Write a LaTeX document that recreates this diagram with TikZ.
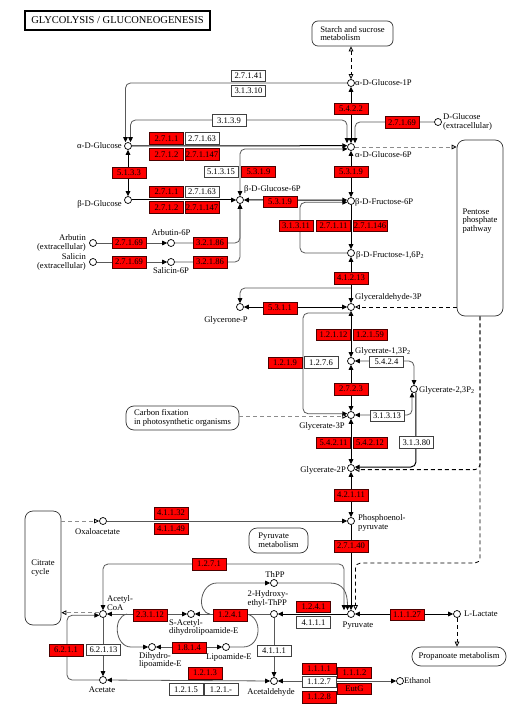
\documentclass[tikz,border=0pt]{standalone}
\usepackage{fontspec}
\setmainfont{Liberation Serif}
\usetikzlibrary{arrows.meta}
\begin{document}
\begin{tikzpicture}[x=1pt,y=-1pt,
  cpd/.style={circle, draw=black, fill=white, line width=0.7pt, minimum size=7pt, inner sep=0pt},
  ecbase/.style={sharp corners, minimum width=34pt, minimum height=11.5pt, inner sep=0pt, font=\fontsize{8.6}{9}\selectfont},
  ecr/.style={ecbase, fill=red, draw=black!70!red, line width=0.5pt},
  ecw/.style={ecbase, fill=white, draw=black!75, line width=0.6pt},
  txt/.style={inner sep=0pt, font=\fontsize{8.6}{8.6}\selectfont, align=left},
  mapb/.style={draw=black!80, line width=0.7pt, rounded corners=6pt, fill=white, inner sep=0pt, font=\fontsize{8.6}{8.6}\selectfont, align=left},
  mn/.style={line width=1pt, draw=black},
  ax/.style={line width=0.8pt, draw=black!65},
  dsh/.style={line width=0.8pt, dash pattern=on 4pt off 3pt, draw=black},
  gdsh/.style={line width=0.8pt, dash pattern=on 4pt off 3pt, draw=black!45},
  Tri/.tip={Triangle[length=5pt,width=4.6pt,color=black]},
  oTri/.tip={Triangle[open,length=5pt,width=4.6pt,color=black,fill=white]},
  rounded corners=5pt]
\useasboundingbox (0,0) rectangle (515,708);
\fill[white] (0,0) rectangle (515,708);

% title
\node[draw=black, line width=1.6pt, fill=white, minimum width=185pt, minimum height=19pt, inner sep=0pt, sharp corners, font=\fontsize{10.5}{12}\selectfont] (title) at (117.5,20.5) {GLYCOLYSIS / GLUCONEOGENESIS};

% maps
\node[mapb, minimum width=81pt, minimum height=25pt] (starch) at (352.5,33.5) {Starch and sucrose\\metabolism};
\node[mapb, rounded corners=8pt, minimum width=46pt, minimum height=176pt] (ppp) at (480,228) {};
\node[txt] (ppptxt) at (480,221) {Pentose\\phosphate\\pathway};
\node[mapb, rounded corners=8pt, minimum width=113pt, minimum height=24pt] (cfix) at (182.5,418) {Carbon fixation\\in photosynthetic organisms};
\node[mapb, rounded corners=8pt, minimum width=36pt, minimum height=114pt] (cit) at (43,568) {Citrate\\cycle};
\node[mapb, rounded corners=8pt, minimum width=59pt, minimum height=25pt] (pyrm) at (278.5,540.5) {Pyruvate\\metabolism};
\node[mapb, rounded corners=9pt, minimum width=94pt, minimum height=19pt] (prop) at (459,656.5) {Propanoate metabolism};

% compounds
\node[cpd] (a1p) at (351,83) {};
\node[cpd] (a6p) at (351,147) {};
\node[cpd] (dglc) at (438,122) {};
\node[cpd] (aglc) at (128,146) {};
\node[cpd] (bglc) at (128,200) {};
\node[cpd] (bg6p) at (240,200) {};
\node[cpd] (bf6p) at (351,201) {};
\node[cpd] (bf16) at (351,253) {};
\node[cpd] (g3p) at (351,307) {};
\node[cpd] (gnp) at (240,307) {};
\node[cpd] (arb) at (93,243) {};
\node[cpd] (arb6p) at (171,243) {};
\node[cpd] (sal) at (93,262) {};
\node[cpd] (sal6p) at (171,262) {};
\node[cpd] (g13) at (351,361) {};
\node[cpd] (g23) at (414,389) {};
\node[cpd] (g3) at (351,415) {};
\node[cpd] (g2p) at (351,468) {};
\node[cpd] (pep) at (351,521) {};
\node[cpd] (oaa) at (103,521) {};
\node[cpd] (pyr) at (351,614) {};
\node[cpd] (lac) at (457,614) {};
\node[cpd] (acoa) at (103,614) {};
\node[cpd] (sac) at (191,614) {};
\node[cpd] (dhl) at (152,647) {};
\node[cpd] (lip) at (226,647) {};
\node[cpd] (ace) at (103,680) {};
\node[cpd] (thpp) at (274,583) {};
\node[cpd] (hyd) at (274,614) {};
\node[cpd] (acald) at (274,681) {};
\node[cpd] (etoh) at (400,681) {};

% compound labels
\node[txt,anchor=west] (la1p) at (355,83) {α-D-Glucose-1P};
\node[txt,anchor=west] (la6p) at (355,155) {α-D-Glucose-6P};
\node[txt,anchor=west] (ldglc) at (443,122) {D-Glucose\\(extracellular)};
\node[txt,anchor=east] (laglc) at (122,146) {α-D-Glucose};
\node[txt,anchor=east] (lbglc) at (122,204) {β-D-Glucose};
\node[txt,anchor=west] (lbg6p) at (244,189) {β-D-Glucose-6P};
\node[txt,anchor=west] (lbf6p) at (355,202) {β-D-Fructose-6P};
\node[txt,anchor=west] (lbf16) at (356,255) {β-D-Fructose-1,6P\textsubscript{2}};
\node[txt,anchor=west] (lg3p) at (355,297) {Glyceraldehyde-3P};
\node[txt] (lgnp) at (226,320) {Glycerone-P};
\node[txt] (larb6p) at (171,233) {Arbutin-6P};
\node[txt] (lsal6p) at (171,271) {Salicin-6P};
\node[txt,anchor=east,align=right] (larb) at (86,243) {Arbutin\\(extracellular)};
\node[txt,anchor=east,align=right] (lsal) at (86,262) {Salicin\\(extracellular)};
\node[txt,anchor=west] (lg13) at (355,351) {Glycerate-1,3P\textsubscript{2}};
\node[txt,anchor=west] (lg23) at (419,390) {Glycerate-2,3P\textsubscript{2}};
\node[txt] (lg3) at (322,426) {Glycerate-3P};
\node[txt,anchor=east] (lg2p) at (346,470) {Glycerate-2P};
\node[txt,anchor=west] (lpep) at (358,523) {Phosphoenol-\\pyruvate};
\node[txt] (loaa) at (97.5,532) {Oxaloacetate};
\node[txt] (lpyr) at (358,626) {Pyruvate};
\node[txt,anchor=west] (llac) at (464,614) {L-Lactate};
\node[txt,anchor=west] (lacoa) at (107,603) {Acetyl-\\CoA};
\node[txt,anchor=north west] (lsac) at (169,619) {S-Acetyl-\\dihydrolipoamide-E};
\node[txt,anchor=north west] (ldhl) at (139,652) {Dihydro-\\lipoamide-E};
\node[txt] (llip) at (229,657) {Lipoamide-E};
\node[txt] (lace) at (102,690) {Acetate};
\node[txt] (lthpp) at (275,575) {ThPP};
\node[txt] (lhyd) at (268,599) {2-Hydroxy-\\ethyl-ThPP};
\node[txt] (lacald) at (271,692) {Acetaldehyde};
\node[txt,anchor=west] (letoh) at (404,681) {Ethanol};

% ---------- connectors ----------
\draw[dsh,{oTri}-{oTri}] (starch.south -| a1p) -- (a1p.north);
\draw[ax,-{Tri}] (a1p.west) -| ([xshift=-2.5pt]aglc.north);
\coordinate (c3139) at (240,120);
\draw[ax,{Tri}-{Tri}] ([xshift=-4pt]a6p.north) |- (c3139) -| ([xshift=2.5pt]aglc.north);
\draw[mn,{Tri}-{Tri}] (a1p) -- (a6p);
\draw[ax,-{Tri}] (dglc.west) -| ([xshift=4pt]a6p.north);
\draw[mn,-{Tri}] (aglc) -- (a6p.160);
\draw[gdsh,-{oTri}] (a6p.east) -- (ppp.west |- a6p);
\draw[mn,{Tri}-{Tri}] (aglc) -- (bglc);
\draw[mn,{Tri}-{Tri}] (a6p) -- (bf6p);
\draw[mn,-{Tri}] (bglc) -- (bg6p);
\draw[ax,{Tri}-{Tri}] (bg6p.north) |- (a6p.210);
\draw[mn,{Tri}-{Tri}] (bg6p) -- (bf6p.165);
\draw[ax,-{Tri}] (arb) -- (arb6p);
\draw[ax,-{Tri}] (sal) -- (sal6p);
\draw[ax,-{Tri}] (arb6p.east) -| (bg6p.south);
\draw[ax,-{Tri}] (sal6p.east) -| (bg6p.south);
\draw[mn,-{Tri}] (bf6p) -- (bf16);
\coordinate (c31311) at (300,230);
\draw[ax,-{Tri}] (bf16.west) -| (c31311) |- (bf6p.200);
\draw[mn,{Tri}-{Tri}] (bf16) -- (g3p);
\coordinate (b41213) at (351,288);
\draw[ax,-{Tri}] (b41213) -| (gnp.north);
\draw[mn,{Tri}-{Tri}] (g3p) -- (gnp);
\draw[dsh,-{oTri}] (ppp.west |- g3p) -- (g3p.east);
\draw[mn,{Tri}-{Tri}] (g3p) -- (g13);
\coordinate (b1219) at (351,313);
\coordinate (c1219) at (303,360);
\draw[ax,-{Tri}] (b1219) -| (c1219) |- (g3.160);
\draw[gdsh,-{oTri}] (cfix.east |- g3.200) -- (g3.200);
\draw[mn,{Tri}-{Tri}] (g13) -- (g3);
\draw[ax,{Tri}-{Tri}] (g13.east) -| (g23.north);
\draw[ax,{Tri}-{Tri}] (g23.-120) |- (g3.east);
\draw[mn,-{Tri}] (g23.-60) |- (g2p.15);
\draw[mn,{Tri}-{Tri}] (g3) -- (g2p);
\draw[dsh,-{oTri}] (ppp.south) |- (g2p.-25);
\coordinate (dk) at (420,563);
\draw[dsh,-{oTri}] (ppp.south) |- (dk) -| ([xshift=4.5pt]pyr.north);
\draw[mn,{Tri}-{Tri}] (g2p) -- (pep);
\draw[ax,-{Tri}] (oaa) -- (pep);
\draw[gdsh,-{oTri}] (cit.east |- oaa) -- (oaa.west);
\draw[mn,-{Tri}] (pep) -- (pyr);
\coordinate (c1271) at (200,564);
\draw[ax,{Tri}-{Tri}] (acoa.north) |- (c1271) -| ([xshift=-7pt]pyr.north);
\draw[mn,{Tri}-{Tri}] (pyr) -- (lac);
\draw[dsh,-{oTri}] (lac.south) -- (lac |- prop.north);
\draw[mn,-{Tri}] (pyr) -- (hyd);
\draw[ax,-{Tri}] (hyd) -- (sac);
\draw[ax,{Tri}-{Tri}] (sac) -- (acoa);
\coordinate (tl0) at (210,614);
\draw[ax,-{Tri}] (tl0) .. controls (196,612) and (200,583) .. (222,583) -- (thpp.west);
\draw[ax,-{Tri}] (thpp.east) -- (325,583) .. controls (343,583) and (347.5,592) .. ([xshift=-3.5pt]pyr.north);
\coordinate (ll0) at (127,614);
\draw[ax,-{Tri}] (ll0) .. controls (112,617) and (115,647) .. (136,647) -- (dhl.west);
\draw[ax,{Tri}-{Tri}] (dhl) -- (lip);
\coordinate (lr0) at (246,614);
\draw[ax] (lip.east) -- (238,647) .. controls (262,647) and (263,616) .. (lr0);
\draw[ax,-{Tri}] (hyd) -- (acald);
\draw[ax,{Tri}-{Tri}] (acald) -- (ace);
\draw[ax,{Tri}-{Tri}] (acald) -- (etoh);
\draw[ax,-{Tri}] (acoa) -- (ace);
\coordinate (c6211) at (67,650);
\draw[ax,-{Tri}] (ace.west) -| (c6211) |- (acoa.200);
\draw[gdsh,-{oTri}] (acoa.160) -- (cit.east |- acoa.160);

% ---------- enzymes ----------
\node[ecw] (e27141) at (248.5,76) {2.7.1.41};
\node[ecw] (e31310) at (248.5,91) {3.1.3.10};
\node[ecw] (e3139) at (229,120.5) {3.1.3.9};
\node[ecr] (e5422) at (351,109) {5.4.2.2};
\node[ecr] (e27169a) at (402,122.5) {2.7.1.69};
\node[ecr] (e2711a) at (166.5,138.5) {2.7.1.1};
\node[ecw] (e27163a) at (202,138.5) {2.7.1.63};
\node[ecr] (e2712a) at (166.5,154.5) {2.7.1.2};
\node[ecr] (e271147a) at (202,154.5) {2.7.1.147};
\node[ecr] (e5133) at (129,173) {5.1.3.3};
\node[ecw] (e51315) at (221,172) {5.1.3.15};
\node[ecr] (e5319a) at (258.5,172) {5.3.1.9};
\node[ecr] (e5319b) at (351,172) {5.3.1.9};
\node[ecr] (e2711b) at (166.5,192) {2.7.1.1};
\node[ecw] (e27163b) at (202,192) {2.7.1.63};
\node[ecr] (e2712b) at (166.5,207.5) {2.7.1.2};
\node[ecr] (e271147b) at (202,207.5) {2.7.1.147};
\node[ecr] (e5319c) at (280,202) {5.3.1.9};
\node[ecr] (e31311) at (296,226) {3.1.3.11};
\node[ecr] (e27111) at (333.5,226) {2.7.1.11};
\node[ecr] (e271146) at (370,226) {2.7.1.146};
\node[ecr] (e41213) at (351,278) {4.1.2.13};
\node[ecr] (e27169b) at (129,243) {2.7.1.69};
\node[ecr] (e32186a) at (210,243) {3.2.1.86};
\node[ecr] (e27169c) at (129,262) {2.7.1.69};
\node[ecr] (e32186b) at (210,262) {3.2.1.86};
\node[ecr] (e5311) at (280,308) {5.3.1.1};
\node[ecr] (e12112) at (333.5,334.5) {1.2.1.12};
\node[ecr] (e12159) at (370,334.5) {1.2.1.59};
\node[ecr] (e1219) at (285,362.5) {1.2.1.9};
\node[ecw] (e1276) at (321,362.5) {1.2.7.6};
\node[ecw] (e5424) at (386.5,362) {5.4.2.4};
\node[ecr] (e2723) at (351,389) {2.7.2.3};
\node[ecw] (e31313) at (387,416) {3.1.3.13};
\node[ecr] (e54211) at (333.5,442.5) {5.4.2.11};
\node[ecr] (e54212) at (370,442.5) {5.4.2.12};
\node[ecw] (e31380) at (416.5,442.5) {3.1.3.80};
\node[ecr] (e42111) at (351,495) {4.2.1.11};
\node[ecr] (e41132) at (171,513) {4.1.1.32};
\node[ecr] (e41149) at (171,528.5) {4.1.1.49};
\node[ecr] (e27140) at (351,546) {2.7.1.40};
\node[ecr] (e1271) at (209,564) {1.2.7.1};
\node[ecr] (e23112) at (150,615) {2.3.1.12};
\node[ecr] (e1241a) at (230,615) {1.2.4.1};
\node[ecr] (e1814) at (189,647.5) {1.8.1.4};
\node[ecr] (e1241b) at (313.5,606.5) {1.2.4.1};
\node[ecw] (e4111a) at (313.5,622.5) {4.1.1.1};
\node[ecw] (e4111b) at (274,651) {4.1.1.1};
\node[ecr] (e6211) at (66,650) {6.2.1.1};
\node[ecw] (e62113) at (103.5,650) {6.2.1.13};
\node[ecr] (e1213) at (205,673) {1.2.1.3};
\node[ecw] (e1215) at (186,689.5) {1.2.1.5};
\node[ecw] (e121x) at (221,689.5) {1.2.1.-};
\node[ecr] (e1111) at (319,668.5) {1.1.1.1};
\node[ecw] (e1127) at (319,682) {1.1.2.7};
\node[ecr] (e1128) at (319,697) {1.1.2.8};
\node[ecr] (e1112) at (354.5,672.5) {1.1.1.2};
\node[ecr] (eeutg) at (354.5,688.5) {EutG};
\node[ecr] (e11127) at (407,614.5) {1.1.1.27};
\end{tikzpicture}
\end{document}
